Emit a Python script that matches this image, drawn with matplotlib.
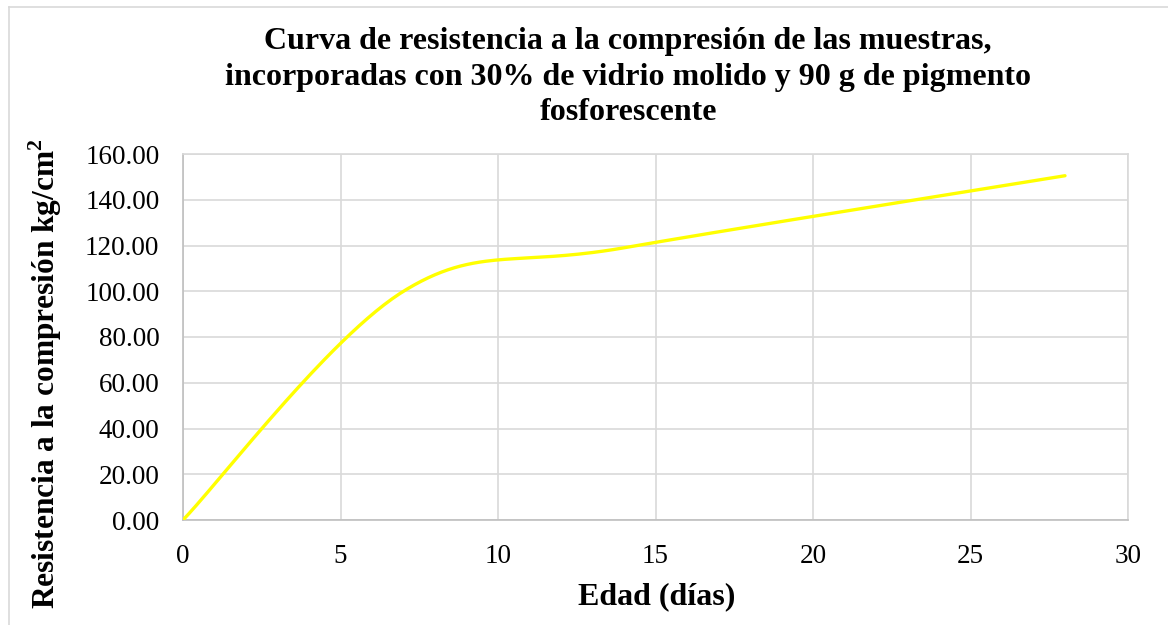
import numpy as np
import matplotlib
matplotlib.use('Agg')
import matplotlib.pyplot as plt
from matplotlib.lines import Line2D

plt.rcParams['font.family'] = ['Liberation Serif', 'DejaVu Serif']
plt.rcParams['mathtext.fontset'] = 'custom'
plt.rcParams['mathtext.rm'] = 'Liberation Serif'
plt.rcParams['mathtext.bf'] = 'Liberation Serif:bold'

# Datos del ensayo
edad = [0, 7, 14, 28]                     # días
resistencia = [0.0, 100.0, 119.0, 150.5]  # kg/cm2

x_ticks = [0, 5, 10, 15, 20, 25, 30]
y_ticks = [0, 20, 40, 60, 80, 100, 120, 140, 160]


def curva_suavizada(xs, ys, n=60):
    # Bezier cubico entre puntos (linea suavizada estilo Excel)
    p = np.column_stack([xs, ys]).astype(float)
    ext = np.vstack([p[0], p, p[-1]])
    t = np.linspace(0, 1, n)[:, None]
    out = []
    for i in range(len(p) - 1):
        p0, p3 = ext[i + 1], ext[i + 2]
        c1 = p0 + (ext[i + 2] - ext[i]) / 6.0
        c2 = p3 - (ext[i + 3] - ext[i + 1]) / 6.0
        seg = ((1 - t) ** 3) * p0 + 3 * ((1 - t) ** 2) * t * c1 \
            + 3 * (1 - t) * t ** 2 * c2 + t ** 3 * p3
        out.append(seg if i == 0 else seg[1:])
    seg = np.vstack(out)
    return seg[:, 0], seg[:, 1]


fig = plt.figure(figsize=(11.68, 6.25), dpi=100)
ax = fig.add_axes([183 / 1168, 1 - 520 / 625, (1128 - 183) / 1168, (520 - 154) / 625])

xs, ys = curva_suavizada(edad, resistencia)
ax.plot(xs, ys, color='#FFFF00', lw=2.4, solid_capstyle='round', zorder=3)

ax.set_xlim(0, 30)
ax.set_ylim(0, 160)
ax.set_xticks(x_ticks)
ax.set_yticks(y_ticks)
ax.set_yticklabels([f'{v:.2f}' for v in y_ticks])
ax.tick_params(axis='both', length=0, labelsize=19.5, colors='black')
ax.tick_params(axis='x', pad=17)
ax.tick_params(axis='y', pad=17)
ax.grid(True, color='#d9d9d9', lw=1.2)
ax.set_axisbelow(True)
for s in ['top', 'right']:
    ax.spines[s].set_color('#d9d9d9')
    ax.spines[s].set_linewidth(1.2)
for s in ['left', 'bottom']:
    ax.spines[s].set_color('#bfbfbf')
    ax.spines[s].set_linewidth(1.2)

fig.text(628 / 1168, 1 - 77 / 625,
         'Curva de resistencia a la compresión de las muestras,\n'
         'incorporadas con 30% de vidrio molido y 90 g de pigmento\n'
         'fosforescente',
         ha='center', va='center', fontsize=23, fontweight='bold', linespacing=1.3)
fig.text(657 / 1168, 1 - 597 / 625, 'Edad (días)',
         ha='center', va='center', fontsize=23, fontweight='bold')
fig.text(45 / 1168, 1 - 374 / 625, r'Resistencia a la compresión kg/cm$^{\mathbf{2}}$',
         ha='center', va='center', rotation=90, fontsize=22.6, fontweight='bold')

# Borde del area del grafico
fig.add_artist(Line2D([9 / 1168, 1], [1 - 7 / 625, 1 - 7 / 625], color='#d9d9d9', lw=1.2))
fig.add_artist(Line2D([9 / 1168, 9 / 1168], [0, 1 - 7 / 625], color='#d9d9d9', lw=1.2))

fig.savefig('out.png', dpi=100)
